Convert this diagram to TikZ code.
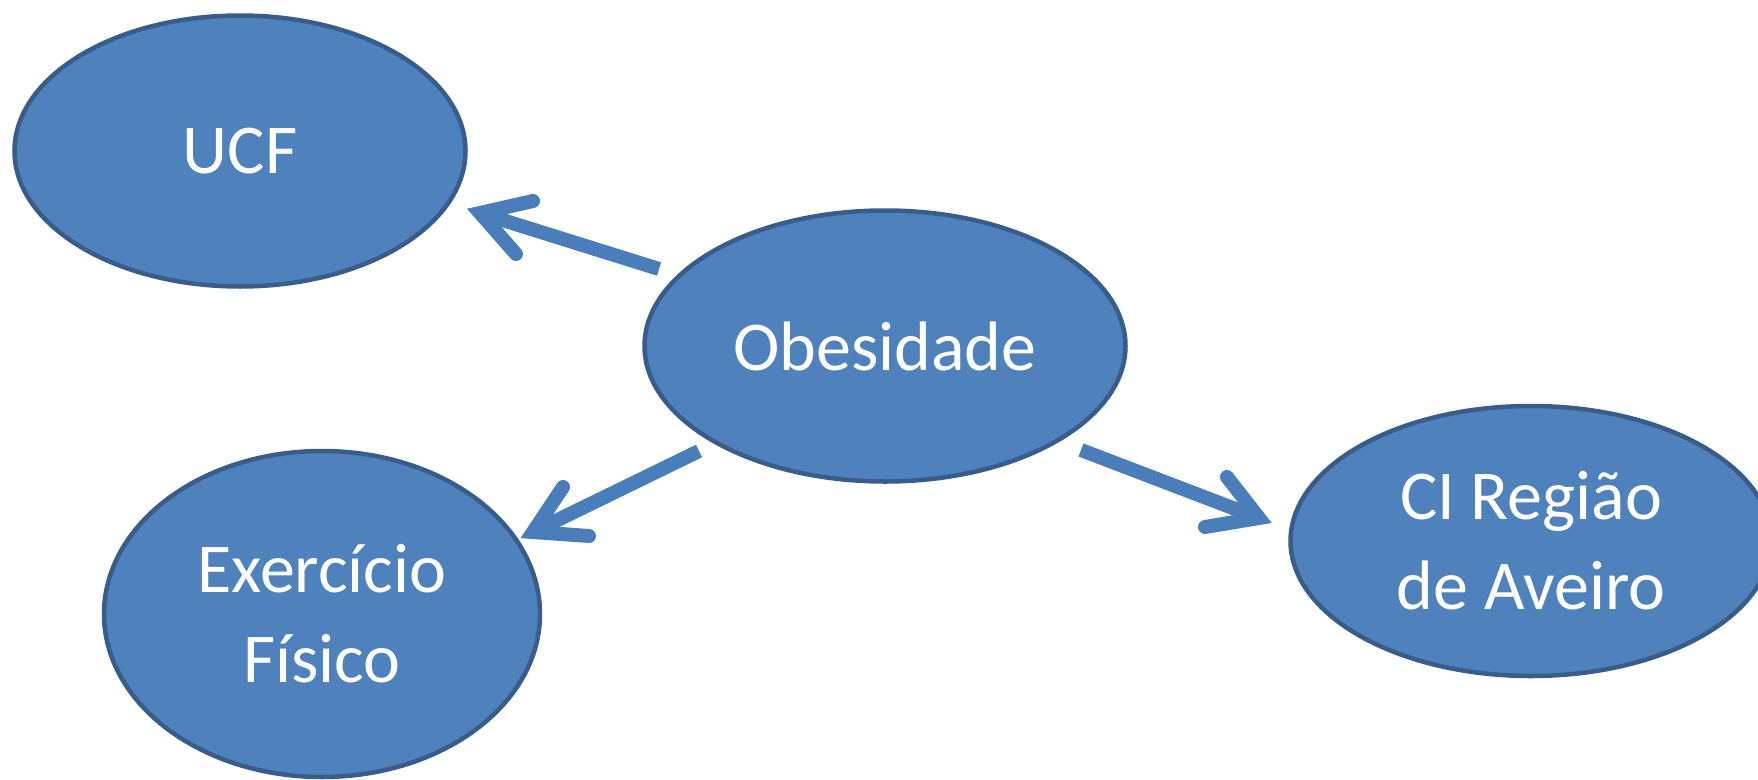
\documentclass[tikz,border=0pt]{standalone}
\usepackage{fontspec}
\setmainfont{Carlito}
\usetikzlibrary{shapes.geometric,calc}
\definecolor{fillblue}{HTML}{4F81BD}
\definecolor{edgeblue}{HTML}{385D8A}
\definecolor{arrowblue}{HTML}{4A7EBB}
\begin{document}
\begin{tikzpicture}[x=1pt,y=-1pt,
  bubble/.style={ellipse, draw=edgeblue, fill=fillblue, line width=4.5pt,
    text=white, align=center, inner sep=0pt,
    font=\fontsize{70}{90}\selectfont},
  shaft/.style={draw=arrowblue, line width=14pt, line cap=butt},
  headstroke/.style={draw=arrowblue, line width=14pt, line cap=round, line join=miter, miter limit=10}]
\useasboundingbox (0,0) rectangle (1758,779);
\node[bubble, minimum width=451pt, minimum height=271pt] (ucf) at (240,151) {UCF};
\node[bubble, minimum width=481pt, minimum height=271pt] (obes) at (885,346) {Obesidade};
\node[bubble, minimum width=436pt, minimum height=326pt] (exer) at (322,614) {Exercício\\Físico};
\node[bubble, minimum width=481pt, minimum height=270pt] (ci) at (1531,541) {CI Região\\de Aveiro};
% arrow 1: Obesidade -> UCF
\coordinate (t1) at ($(obes.center)+(-226,-77)$);
\coordinate (v1) at ($(ucf.center)+(240,62)$);
\coordinate (b1a) at ($(ucf.center)+(293,50)$);
\coordinate (b1b) at ($(ucf.center)+(276,103)$);
\draw[shaft] (t1) -- (v1);
\draw[headstroke] (b1a) -- (v1) -- (b1b);
% arrow 2: Obesidade -> Exercicio
\coordinate (t2) at ($(obes.center)+(-186,105)$);
\coordinate (v2) at ($(exer.center)+(211,-82)$);
\coordinate (b2a) at ($(exer.center)+(241,-127)$);
\coordinate (b2b) at ($(exer.center)+(267,-78)$);
\draw[shaft] (t2) -- (v2);
\draw[headstroke] (b2a) -- (v2) -- (b2b);
% arrow 3: Obesidade -> CI
\coordinate (t3) at ($(obes.center)+(196,104)$);
\coordinate (v3) at ($(ci.center)+(-272,-23)$);
\coordinate (b3a) at ($(ci.center)+(-304,-64)$);
\coordinate (b3b) at ($(ci.center)+(-326,-14)$);
\draw[shaft] (t3) -- (v3);
\draw[headstroke] (b3a) -- (v3) -- (b3b);
\end{tikzpicture}
\end{document}
